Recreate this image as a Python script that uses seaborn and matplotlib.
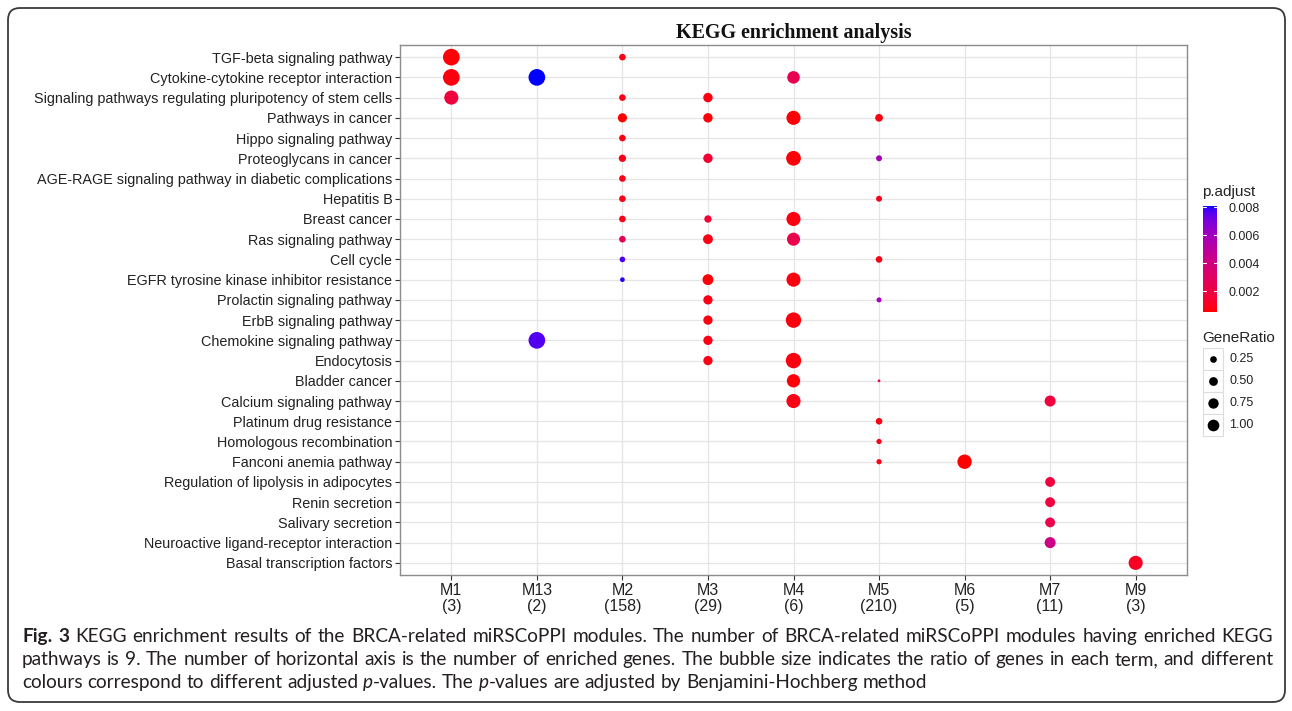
import numpy as np
import pandas as pd
import matplotlib
matplotlib.use("Agg")
import matplotlib.pyplot as plt
import seaborn as sns
from matplotlib.colors import ListedColormap, Normalize
from matplotlib.cm import ScalarMappable
from matplotlib.patches import FancyBboxPatch, Rectangle

# ---------------- data ----------------
terms = ["TGF-beta signaling pathway", "Cytokine-cytokine receptor interaction",
         "Signaling pathways regulating pluripotency of stem cells", "Pathways in cancer",
         "Hippo signaling pathway", "Proteoglycans in cancer",
         "AGE-RAGE signaling pathway in diabetic complications", "Hepatitis B",
         "Breast cancer", "Ras signaling pathway", "Cell cycle",
         "EGFR tyrosine kinase inhibitor resistance", "Prolactin signaling pathway",
         "ErbB signaling pathway", "Chemokine signaling pathway", "Endocytosis",
         "Bladder cancer", "Calcium signaling pathway", "Platinum drug resistance",
         "Homologous recombination", "Fanconi anemia pathway",
         "Regulation of lipolysis in adipocytes", "Renin secretion", "Salivary secretion",
         "Neuroactive ligand-receptor interaction", "Basal transcription factors"]
modules = ["M1", "M13", "M2", "M3", "M4", "M5", "M6", "M7", "M9"]
module_genes = [3, 2, 158, 29, 6, 210, 5, 11, 3]

pt_term = [
    "TGF-beta signaling pathway", "TGF-beta signaling pathway",
    "Cytokine-cytokine receptor interaction", "Cytokine-cytokine receptor interaction",
    "Cytokine-cytokine receptor interaction",
    "Signaling pathways regulating pluripotency of stem cells",
    "Signaling pathways regulating pluripotency of stem cells",
    "Signaling pathways regulating pluripotency of stem cells",
    "Pathways in cancer", "Pathways in cancer", "Pathways in cancer", "Pathways in cancer",
    "Hippo signaling pathway",
    "Proteoglycans in cancer", "Proteoglycans in cancer", "Proteoglycans in cancer",
    "Proteoglycans in cancer",
    "AGE-RAGE signaling pathway in diabetic complications",
    "Hepatitis B", "Hepatitis B",
    "Breast cancer", "Breast cancer", "Breast cancer",
    "Ras signaling pathway", "Ras signaling pathway", "Ras signaling pathway",
    "Cell cycle", "Cell cycle",
    "EGFR tyrosine kinase inhibitor resistance", "EGFR tyrosine kinase inhibitor resistance",
    "EGFR tyrosine kinase inhibitor resistance",
    "Prolactin signaling pathway", "Prolactin signaling pathway",
    "ErbB signaling pathway", "ErbB signaling pathway",
    "Chemokine signaling pathway", "Chemokine signaling pathway",
    "Endocytosis", "Endocytosis",
    "Bladder cancer", "Bladder cancer",
    "Calcium signaling pathway", "Calcium signaling pathway",
    "Platinum drug resistance",
    "Homologous recombination",
    "Fanconi anemia pathway", "Fanconi anemia pathway",
    "Regulation of lipolysis in adipocytes",
    "Renin secretion",
    "Salivary secretion",
    "Neuroactive ligand-receptor interaction",
    "Basal transcription factors"]
pt_module = [
    "M1", "M2",
    "M1", "M13", "M4",
    "M1", "M2", "M3",
    "M2", "M3", "M4", "M5",
    "M2",
    "M2", "M3", "M4", "M5",
    "M2",
    "M2", "M5",
    "M2", "M3", "M4",
    "M2", "M3", "M4",
    "M2", "M5",
    "M2", "M3", "M4",
    "M3", "M5",
    "M3", "M4",
    "M13", "M3",
    "M3", "M4",
    "M4", "M5",
    "M4", "M7",
    "M5",
    "M5",
    "M5", "M6",
    "M7",
    "M7",
    "M7",
    "M7",
    "M9"]
pt_ratio = [
    1.00, 0.09,
    1.00, 1.00, 0.50,
    0.67, 0.09, 0.24,
    0.22, 0.24, 0.67, 0.14,
    0.09,
    0.12, 0.24, 0.74, 0.067,
    0.09,
    0.09, 0.067,
    0.09, 0.12, 0.67,
    0.09, 0.27, 0.55,
    0.057, 0.09,
    0.033, 0.35, 0.67,
    0.23, 0.04,
    0.23, 0.83,
    1.00, 0.23,
    0.23, 0.83,
    0.58, 0.015,
    0.67, 0.36,
    0.09,
    0.046,
    0.046, 0.70,
    0.27,
    0.27,
    0.27,
    0.36,
    0.67]
pt_padj = [
    0.0006, 0.0008,
    0.0007, 0.0081, 0.0024,
    0.0018, 0.0008, 0.0007,
    0.0005, 0.0006, 0.0006, 0.0007,
    0.0007,
    0.0008, 0.0015, 0.0006, 0.0058,
    0.0008,
    0.0008, 0.0009,
    0.0008, 0.0015, 0.0007,
    0.0026, 0.0008, 0.0023,
    0.0077, 0.0008,
    0.0080, 0.0006, 0.0007,
    0.0008, 0.0060,
    0.0007, 0.0007,
    0.0076, 0.0008,
    0.0008, 0.0007,
    0.0006, 0.0025,
    0.0008, 0.0018,
    0.0008,
    0.0008,
    0.0008, 0.0005,
    0.0018,
    0.0018,
    0.0022,
    0.0042,
    0.0011]
cbar_ticks = [0.002, 0.004, 0.006, 0.008]
size_breaks = [0.25, 0.50, 0.75, 1.00]

title = "KEGG enrichment analysis"
caption = [
    "*Fig. 3* KEGG enrichment results of the BRCA-related miRSCoPPI modules. The number of BRCA-related miRSCoPPI modules having enriched KEGG",
    "pathways is 9. The number of horizontal axis is the number of enriched genes. The bubble size indicates the ratio of genes in each term, and different",
    "colours correspond to different adjusted _p_-values. The _p_-values are adjusted by Benjamini-Hochberg method",
]

# ---------------- helpers ----------------
def srgb_to_lab(rgb):
    rgb = np.asarray(rgb, float)
    lin = np.where(rgb <= 0.04045, rgb / 12.92, ((rgb + 0.055) / 1.055) ** 2.4)
    M = np.array([[0.4124, 0.3576, 0.1805], [0.2126, 0.7152, 0.0722], [0.0193, 0.1192, 0.9505]])
    xyz = M @ lin / np.array([0.95047, 1.0, 1.08883])
    f = np.where(xyz > 0.008856, np.cbrt(xyz), 7.787 * xyz + 16 / 116)
    return np.array([116 * f[1] - 16, 500 * (f[0] - f[1]), 200 * (f[1] - f[2])])


def lab_to_srgb(lab):
    L, a, b = lab
    fy = (L + 16) / 116
    fx = fy + a / 500
    fz = fy - b / 200
    f = np.array([fx, fy, fz])
    xyz = np.where(f ** 3 > 0.008856, f ** 3, (f - 16 / 116) / 7.787) * np.array([0.95047, 1.0, 1.08883])
    Minv = np.linalg.inv(np.array([[0.4124, 0.3576, 0.1805], [0.2126, 0.7152, 0.0722], [0.0193, 0.1192, 0.9505]]))
    lin = np.clip(Minv @ xyz, 0, 1)
    rgb = np.where(lin <= 0.0031308, 12.92 * lin, 1.055 * lin ** (1 / 2.4) - 0.055)
    return np.clip(rgb, 0, 1)


lab_lo = srgb_to_lab([1, 0, 0])
lab_hi = srgb_to_lab([0, 0, 1])
cmap = ListedColormap([lab_to_srgb(lab_lo + t * (lab_hi - lab_lo)) for t in np.linspace(0, 1, 256)])

rmin, rmax = min(pt_ratio), max(pt_ratio)


def diam_px(r):
    t = (r - rmin) / (rmax - rmin)
    return 2.78 * (1 + 5 * np.sqrt(max(t, 0)))


def area_pt2(r, scale=1.0):
    return (diam_px(r) * scale * 0.72) ** 2


df = pd.DataFrame({"term": pt_term, "module": pt_module, "ratio": pt_ratio, "padj": pt_padj})
df["xpos"] = df["module"].map({m: i for i, m in enumerate(modules)})
df["ypos"] = df["term"].map({t: i for i, t in enumerate(terms)})
size_dict = {r: area_pt2(r) for r in sorted(set(pt_ratio))}
norm = Normalize(vmin=min(pt_padj), vmax=max(pt_padj))

# ---------------- figure ----------------
sns.set_theme(style="white")
plt.rcParams["font.family"] = ["Liberation Sans", "DejaVu Sans"]
W, H = 1292, 711
fig = plt.figure(figsize=(W / 100, H / 100), dpi=100)

ov = fig.add_axes([0, 0, 1, 1])
ov.set_xlim(0, W)
ov.set_ylim(H, 0)
ov.axis("off")
ov.add_patch(FancyBboxPatch((8, 8), 1277, 694, boxstyle="round,pad=0,rounding_size=12",
                            fill=False, edgecolor="#3a3a3a", linewidth=1.3))

L, R, T, B = 400, 1187, 45, 575
ax = fig.add_axes([L / W, 1 - B / H, (R - L) / W, (B - T) / H])
ax.set_axisbelow(True)
ax.grid(True, color="#e5e5e5", linewidth=0.9)
sns.scatterplot(data=df, x="xpos", y="ypos", hue="padj", palette=cmap, hue_norm=norm,
                size="ratio", sizes=size_dict, linewidth=0, legend=False, ax=ax, zorder=3)
ax.set_xlim(-0.6, len(modules) - 1 + 0.6)
ax.set_ylim(len(terms) - 1 + 0.6, -0.6)
ax.set_xticks(range(len(modules)))
ax.set_xticklabels([f"{m}\n({n})" for m, n in zip(modules, module_genes)],
                   fontsize=11.5, color="#222222", linespacing=1.1)
ax.set_yticks(range(len(terms)))
ax.set_yticklabels(terms, fontsize=10.4, color="#222222")
ax.set_xlabel("")
ax.set_ylabel("")
ax.tick_params(axis="both", length=3.5, width=0.8, color="#333333", pad=2, bottom=True, left=True)
for s in ax.spines.values():
    s.set_color("#8c8c8c")
    s.set_linewidth(1.0)
ax.set_title(title, fontsize=14.4, fontweight="bold", family=["Liberation Serif", "DejaVu Serif"],
             pad=5, color="#111111")

# colour bar
ov.text(1202, 192, "p.adjust", fontsize=11, va="center", ha="left", color="#222222")
cax = fig.add_axes([1203 / W, 1 - 312 / H, 14 / W, 106 / H])
cb = fig.colorbar(ScalarMappable(norm=norm, cmap=cmap), cax=cax, ticks=cbar_ticks, format="%.3f")
cb.outline.set_visible(False)
cax.tick_params(length=0, labelsize=9, pad=8, colors="#222222")
for v in cbar_ticks:
    cax.plot([0, 0.22], [v, v], color="white", lw=0.8)
    cax.plot([0.78, 1], [v, v], color="white", lw=0.8)

# size legend
ov.text(1202, 338, "GeneRatio", fontsize=11, va="center", ha="left", color="#222222")
key_y0, key_h, key_w = 348, 22, 20
for i, r in enumerate(size_breaks):
    y0 = key_y0 + i * key_h
    ov.add_patch(Rectangle((1203, y0), key_w, key_h, facecolor="white", edgecolor="#dcdcdc", lw=0.8))
    ov.scatter([1203 + key_w / 2], [y0 + key_h / 2], s=area_pt2(r, 0.7), color="black", linewidth=0)
    ov.text(1229, y0 + key_h / 2, f"{r:.2f}", fontsize=9, va="center", ha="left", color="#222222")

# caption (justified)
renderer = fig.canvas.get_renderer()
cap_family = ["Lato", "DejaVu Sans"]


def parse(line):
    words, bold, ital = [], False, False
    for w in line.split(" "):
        pieces, buf = [], ""
        for ch in w:
            if ch in "*_":
                if buf:
                    pieces.append((buf, bold, ital))
                    buf = ""
                if ch == "*":
                    bold = not bold
                else:
                    ital = not ital
            else:
                buf += ch
        if buf:
            pieces.append((buf, bold, ital))
        words.append(pieces)
    return words


def measure(txt, size, bold=False, ital=False):
    t = ov.text(0, 0, txt, fontsize=size, family=cap_family,
                fontweight="bold" if bold else "normal", style="italic" if ital else "normal")
    w = t.get_window_extent(renderer).width
    t.remove()
    return w


def word_w(pieces, size):
    return sum(measure(p, size, b, i) for p, b, i in pieces)


parsed = [parse(l) for l in caption]
base = 12
nat3 = sum(word_w(w, base) for w in parsed[2]) + (len(parsed[2]) - 1) * (measure("a a", base) - 2 * measure("a", base))
cap_size = base * (925 - 22) / nat3
space = measure("a a", cap_size) - 2 * measure("a", cap_size)
baselines = [642, 665, 688]
x_left, x_right = 22, 1273
for li, words in enumerate(parsed):
    widths = [word_w(w, cap_size) for w in words]
    if li < len(parsed) - 1:
        gap = (x_right - x_left - sum(widths)) / (len(words) - 1)
    else:
        gap = space
    x = x_left
    for w, ww in zip(words, widths):
        for p, b, i in w:
            ov.text(x, baselines[li], p, fontsize=cap_size, family=cap_family, va="baseline", ha="left",
                    fontweight="bold" if b else "normal", style="italic" if i else "normal",
                    color="#231f20")
            x += measure(p, cap_size, b, i)
        x += gap

fig.savefig("out.png", dpi=100)
